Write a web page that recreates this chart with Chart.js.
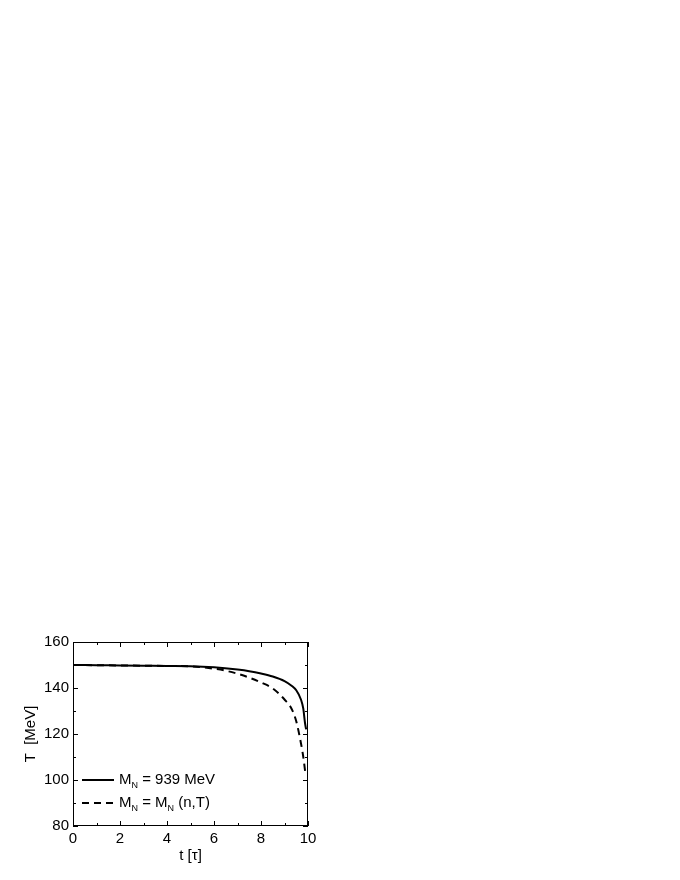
<!DOCTYPE html>
<html>
<head>
<meta charset="utf-8">
<script src="https://cdn.jsdelivr.net/npm/chart.js@4/dist/chart.umd.min.js"></script>
<style>
  html, body { margin: 0; padding: 0; background: #fff; }
  #wrap { width: 680px; height: 880px; }
</style>
</head>
<body>
<div id="wrap"><canvas id="chart" width="680" height="880"></canvas></div>
<script>
// data
const solidT = [0, 1, 2, 3, 4, 5, 6, 7, 7.5, 8, 8.5, 9, 9.3, 9.5, 9.7, 9.8, 9.87, 9.92];
const solidTemp = [150, 149.9, 149.8, 149.7, 149.6, 149.5, 149, 148, 147.3, 146.3, 145, 143, 141, 139, 135, 131, 125, 122];
const dashedT = [0, 1, 2, 3, 4, 5, 5.5, 6, 6.5, 7, 7.5, 8, 8.5, 9, 9.3, 9.5, 9.7, 9.8, 9.9];
const dashedTemp = [150, 149.9, 149.8, 149.7, 149.6, 149.4, 149, 148.4, 147.5, 146.2, 144.5, 142.4, 139.8, 135, 131, 125.5, 116, 110, 102];
const xTicks = [0, 2, 4, 6, 8, 10];
const yTicks = [80, 100, 120, 140, 160];
const legendLabels = [
  { main: "M", sub: "N", rest: " = 939 MeV", dash: [] },
  { main: "M", sub: "N", rest: " = M", sub2: "N", rest2: " (n,T)", dash: [7, 5] }
];

const FONT = "Arial, 'Liberation Sans', sans-serif";

const toPoints = (xs, ys) => xs.map((x, i) => ({ x: x, y: ys[i] }));

// frame, inward ticks on all sides, legend with subscripts
const framePlugin = {
  id: "frame",
  afterDraw(chart) {
    const ctx = chart.ctx;
    const a = chart.chartArea;
    const xs = chart.scales.x, ys = chart.scales.y;
    ctx.save();
    ctx.strokeStyle = "#000";
    ctx.lineWidth = 1;
    ctx.strokeRect(a.left + 0.5, a.top + 0.5, a.right - a.left - 1, a.bottom - a.top - 1);
    ctx.beginPath();
    for (let v = 0; v <= 10; v += 1) {
      const px = Math.round(xs.getPixelForValue(v)) + 0.5;
      const len = v % 2 === 0 ? 5 : 3;
      ctx.moveTo(px, a.bottom); ctx.lineTo(px, a.bottom - len);
      ctx.moveTo(px, a.top); ctx.lineTo(px, a.top + len);
    }
    for (let v = 80; v <= 160; v += 10) {
      const py = Math.round(ys.getPixelForValue(v)) + 0.5;
      const len = v % 20 === 0 ? 5 : 3;
      ctx.moveTo(a.left, py); ctx.lineTo(a.left + len, py);
      ctx.moveTo(a.right, py); ctx.lineTo(a.right - len, py);
    }
    ctx.stroke();

    // legend
    const lx = a.left + 9;
    legendLabels.forEach((l, i) => {
      const y = ys.getPixelForValue(100 - i * 10);
      ctx.beginPath();
      ctx.setLineDash(l.dash);
      ctx.lineWidth = 2;
      ctx.moveTo(lx, y); ctx.lineTo(lx + 32, y);
      ctx.stroke();
      ctx.setLineDash([]);
      ctx.fillStyle = "#000";
      ctx.textBaseline = "middle";
      ctx.textAlign = "left";
      let x = lx + 37;
      const put = (txt, size, dy) => {
        ctx.font = size + "px " + FONT;
        ctx.fillText(txt, x, y + dy);
        x += ctx.measureText(txt).width;
      };
      put(l.main, 15, 0);
      put(l.sub, 9, 6);
      put(l.rest, 15, 0);
      if (l.sub2) {
        put(l.sub2, 9, 6);
        put(l.rest2, 15, 0);
      }
    });
    ctx.restore();
  }
};

new Chart(document.getElementById("chart"), {
  type: "line",
  data: {
    datasets: [
      {
        data: toPoints(solidT, solidTemp),
        borderColor: "#000",
        borderWidth: 2,
        pointRadius: 0,
        cubicInterpolationMode: "monotone",
        fill: false
      },
      {
        data: toPoints(dashedT, dashedTemp),
        borderColor: "#000",
        borderWidth: 2,
        borderDash: [7, 5],
        pointRadius: 0,
        cubicInterpolationMode: "monotone",
        fill: false
      }
    ]
  },
  options: {
    responsive: false,
    animation: false,
    devicePixelRatio: 1,
    layout: { padding: { left: 0, top: 642, right: 372, bottom: 0 } },
    plugins: { legend: { display: false }, tooltip: { enabled: false } },
    scales: {
      x: {
        type: "linear",
        min: 0,
        max: 10,
        afterBuildTicks: (s) => { s.ticks = xTicks.map((v) => ({ value: v })); },
        afterFit: (s) => { s.height = 54; },
        grid: { display: false, drawTicks: false },
        border: { display: false },
        ticks: { color: "#000", font: { family: FONT, size: 15 }, padding: 4, maxRotation: 0 },
        title: { display: true, text: "t [τ]", color: "#000", font: { family: FONT, size: 15 }, padding: { top: 15, bottom: 15 } }
      },
      y: {
        min: 80,
        max: 160,
        afterBuildTicks: (s) => { s.ticks = yTicks.map((v) => ({ value: v })); },
        afterFit: (s) => { s.width = 73; },
        grid: { display: false, drawTicks: false },
        border: { display: false },
        ticks: { color: "#000", font: { family: FONT, size: 15 }, padding: 4 },
        title: { display: true, text: "T  [MeV]", color: "#000", font: { family: FONT, size: 15 }, padding: { top: 22, bottom: 22 } }
      }
    }
  },
  plugins: [framePlugin]
});
</script>
</body>
</html>
